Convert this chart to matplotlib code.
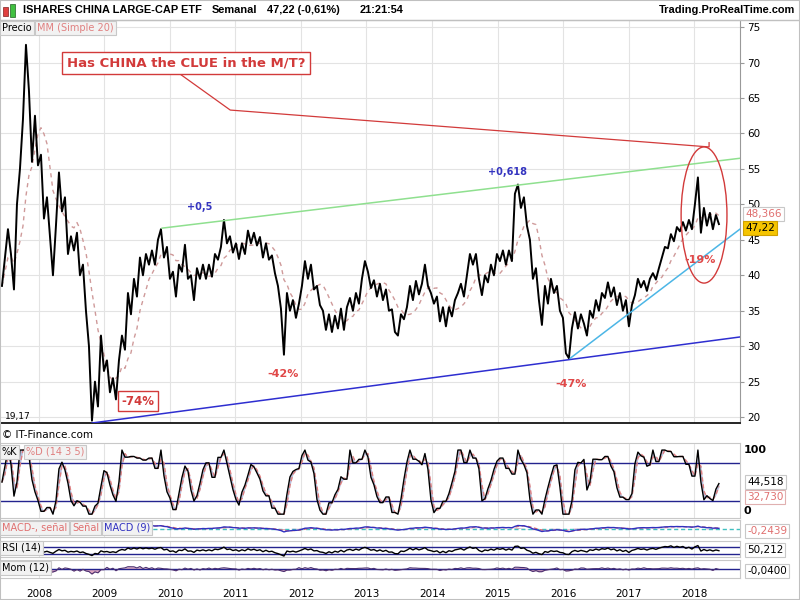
import numpy as np
import pandas as pd
import matplotlib
matplotlib.use("Agg")
import matplotlib.pyplot as plt
from matplotlib.patches import Ellipse, Rectangle

precio = [
    38.5, 42.5, 46.5, 43.0, 38.0, 50.0, 55.0, 62.0, 72.5, 66.0,
    56.0, 62.5, 55.5, 57.0, 48.0, 51.0, 45.5, 40.0, 47.0, 54.5,
    49.0, 51.0, 43.0, 45.5, 43.5, 46.0, 40.0, 41.5, 35.0, 30.0,
    19.5, 25.0, 21.5, 31.5, 26.5, 28.0, 23.5, 25.5, 22.5, 28.0,
    31.5, 29.5, 37.5, 34.5, 39.5, 37.0, 42.5, 40.0, 43.0, 41.5,
    43.5, 41.5, 45.0, 46.5, 42.5, 44.0, 39.5, 40.5, 37.0, 41.5,
    40.5, 44.3, 39.5, 40.0, 36.5, 41.0, 39.5, 41.5, 39.5, 41.5,
    39.8, 43.0, 42.2, 44.0, 47.8, 44.5, 45.5, 43.2, 44.5, 42.3,
    44.5, 43.0, 46.3, 44.5, 46.0, 44.2, 45.4, 42.5, 44.5, 42.2,
    42.8, 40.3, 38.5, 35.3, 28.8, 37.5, 35.0, 36.5, 34.0, 36.0,
    38.5, 42.0, 39.5, 41.5, 38.0, 38.5, 35.8, 35.0, 32.3, 34.5,
    32.0, 34.3, 32.5, 35.3, 32.3, 35.5, 36.8, 35.0, 37.5, 36.0,
    39.5, 42.0, 40.5, 38.2, 39.3, 37.0, 38.8, 36.5, 38.0, 35.0,
    35.2, 32.0, 31.5, 34.5, 33.8, 35.5, 38.5, 36.5, 39.2, 37.3,
    38.8, 41.5, 38.5, 37.5, 36.0, 37.0, 33.5, 35.5, 32.8, 35.5,
    34.2, 36.5, 37.5, 38.8, 37.0, 40.0, 43.0, 41.5, 43.0, 39.5,
    37.2, 40.0, 39.0, 41.5, 40.0, 43.0, 42.0, 43.5, 41.5, 43.5,
    42.0, 51.5, 52.8, 49.5, 51.0, 47.0, 45.0, 39.5, 41.0, 36.5,
    33.0, 38.5, 36.0, 39.5, 37.5, 38.5, 35.0, 34.0, 29.0, 28.3,
    32.5, 34.8, 32.5, 34.5, 33.2, 31.5, 35.0, 34.0, 36.5, 35.0,
    37.5, 36.8, 39.0, 37.0, 38.3, 35.8, 37.5, 35.0, 36.5, 32.8,
    35.8, 37.2, 39.5, 38.3, 39.2, 37.8, 39.5, 40.3, 39.4, 41.0,
    42.5, 44.0, 43.8, 45.8, 44.8, 46.8, 46.2, 47.5, 46.3, 47.8,
    46.5, 50.0, 53.8, 46.0, 49.5, 47.0, 48.8, 46.5, 48.5, 47.22,
]
fecha_ini = 2007.435
fecha_fin = 2018.38
years = list(range(2008, 2019))
price_ticks = list(range(20, 80, 5))

# lineas dibujadas a mano (anio, precio)
verde_x, verde_y = [2009.88, 2018.70], [46.65, 56.5]
azul_x, azul_y = [2008.81, 2018.70], [19.17, 31.3]
celeste_x, celeste_y = [2016.11, 2018.70], [28.3, 46.5]
roja_x, roja_y = [2010.15, 2010.92, 2018.23, 2018.23], [68.4, 63.3, 58.1, 58.7]

t = np.linspace(fecha_ini, fecha_fin, len(precio))
s = pd.Series(precio)

# indicadores
mm20 = s.rolling(8, min_periods=1).mean()
hh = s.rolling(6, min_periods=1).max()
ll = s.rolling(6, min_periods=1).min()
k_raw = ((s - ll) / (hh - ll).replace(0, np.nan) * 100).fillna(50)
pk = k_raw.rolling(2, min_periods=1).mean()
pdd = pk.rolling(2, min_periods=1).mean()
ema_r = s.ewm(span=5, adjust=False).mean()
ema_l = s.ewm(span=11, adjust=False).mean()
macd = ema_r - ema_l
senal = macd.ewm(span=4, adjust=False).mean()
delta = s.diff().fillna(0)
up = delta.clip(lower=0).ewm(alpha=1 / 6, adjust=False).mean()
dn = (-delta.clip(upper=0)).ewm(alpha=1 / 6, adjust=False).mean()
rsi = 100 - 100 / (1 + up / dn.replace(0, np.nan))
rsi = rsi.fillna(50)
mom = (s - s.shift(5)).fillna(0)

plt.rcParams['font.family'] = ['DejaVu Sans']
fig = plt.figure(figsize=(8, 6), dpi=100)
fig.patch.set_facecolor('white')


def fx(x):
    return x / 800


def fy(y):
    return 1 - y / 600


def panel(top, bottom):
    return fig.add_axes([0, fy(bottom), 740 / 800, (bottom - top) / 600])


XL = (2007.405, 2018.702)
GRID = '#e3e3e3'
NAVY = '#23238e'
ROJO = '#d23a3a'

ax = panel(20, 423)
ax_s = panel(443, 518)
ax_m = panel(520, 537)
ax_r = panel(541, 557)
ax_mo = panel(560, 578)

for a in (ax, ax_s, ax_m, ax_r, ax_mo):
    a.set_xlim(*XL)
    a.set_xticks(years)
    a.tick_params(axis='x', length=0, labelbottom=False)
    a.yaxis.tick_right()
    a.tick_params(axis='y', length=3, color='#999999', labelsize=7.5, pad=2)
    for sp in a.spines.values():
        sp.set_color('#c8c8c8')
        sp.set_linewidth(0.8)
    a.spines['left'].set_visible(False)
    a.grid(axis='x', color=GRID, lw=0.8)
    a.set_axisbelow(True)

# precio
ax.set_ylim(19.17, 76.0)
ax.set_yticks(price_ticks)
ax.grid(axis='y', color=GRID, lw=0.8)
ax.spines['right'].set_color('#999999')
ax.spines['bottom'].set_color('black')
ax.spines['bottom'].set_linewidth(1.2)
ax.plot(t, mm20, color='#cf9a9a', lw=1.0, ls=(0, (3, 3)), zorder=2)
ax.plot(t, precio, color='black', lw=1.4, zorder=3)
ax.plot(verde_x, verde_y, color='#8fe08f', lw=1.1, zorder=4)
ax.plot(azul_x, azul_y, color='#2e2ed0', lw=1.1, zorder=4)
ax.plot(celeste_x, celeste_y, color='#4cb6e6', lw=1.1, zorder=4)
ax.plot(roja_x, roja_y, color=ROJO, lw=0.9, zorder=4)
ax.add_patch(Ellipse((2018.153, 48.5), 0.70, 19.2, fill=False,
                     edgecolor=ROJO, lw=1.0, zorder=5))
ax.text(2010.244, 69.9, 'Has CHINA the CLUE in the M/T?', color=ROJO,
        fontsize=9.5, fontweight='bold', ha='center', va='center',
        bbox=dict(boxstyle='square,pad=0.35', fc='white', ec=ROJO, lw=1.0),
        zorder=6)
ax.text(2009.51, 22.25, '-74%', color=ROJO, fontsize=8.5, fontweight='bold',
        ha='center', va='center',
        bbox=dict(boxstyle='square,pad=0.3', fc='white', ec=ROJO, lw=1.0))
for xx, yy, txt in [(2011.725, 26.06, '-42%'), (2016.12, 24.65, '-47%'),
                    (2018.09, 42.1, '-19%')]:
    ax.text(xx, yy, txt, color='#e04848', fontsize=8, fontweight='bold',
            ha='center', va='center', zorder=6)
ax.text(2010.46, 49.6, '+0,5', color='#3434c0', fontsize=7, fontweight='bold',
        ha='center', va='center')
ax.text(2015.145, 54.55, '+0,618', color='#3434c0', fontsize=7,
        fontweight='bold', ha='center', va='center')

# estocastico
ax_s.set_ylim(-6, 111)
ax_s.set_yticks([])
ax_s.axhline(80, color=NAVY, lw=1.0)
ax_s.axhline(20, color=NAVY, lw=1.0)
ax_s.fill_between(t, pk, pdd, color='#b8bedc', lw=0)
ax_s.plot(t, pdd, color='#e08080', lw=1.0, ls=(0, (3, 2)))
ax_s.plot(t, pk, color='black', lw=1.0)

# MACD
lim = max(abs(macd).max(), 1) * 1.1
ax_m.set_ylim(-lim, lim)
ax_m.set_yticks([])
ax_m.fill_between(t, macd - senal, 0, color='#e6a8bc', lw=0)
ax_m.axhline(0, color='#40c0c0', lw=1.0, ls=(0, (3, 2)))
ax_m.plot(t, senal, color='#e07070', lw=0.9, ls=(0, (3, 2)))
ax_m.plot(t, macd, color='#3030c0', lw=1.0)

# RSI
ax_r.set_ylim(8, 111)
ax_r.set_yticks([])
ax_r.axhline(70, color=NAVY, lw=1.0)
ax_r.axhline(30, color=NAVY, lw=1.0)
ax_r.plot(t, rsi, color='black', lw=1.0)

# Momento
mlim = max(abs(mom).max(), 1) * 1.6
ax_mo.set_ylim(-mlim, mlim)
ax_mo.set_yticks([])
ax_mo.fill_between(t, mom, 0, color='#e0a8c0', lw=0)
ax_mo.axhline(0, color=NAVY, lw=1.0)
ax_mo.plot(t, mom, color='#4a3070', lw=0.8)
ax_mo.set_xticks(years)
ax_mo.set_xticklabels([str(y) for y in years])
ax_mo.tick_params(axis='x', labelbottom=True, labelsize=7.5, pad=8)

# cabecera
fig.add_artist(plt.Line2D([0, 1], [fy(19.5), fy(19.5)], color='#c0c0c0', lw=1))
fig.add_artist(Rectangle((fx(3), fy(16)), fx(5), 9 / 600, fc='#e04040', ec='#802020', lw=0.5))
fig.add_artist(Rectangle((fx(10), fy(17)), fx(5), 13 / 600, fc='#40c040', ec='#206020', lw=0.5))
hdr = dict(fontsize=7.9, fontweight='bold', va='center',
           family=['Liberation Sans', 'DejaVu Sans'])
fig.text(fx(23), fy(10), 'ISHARES CHINA LARGE-CAP ETF', **hdr)
fig.text(fx(212), fy(10), 'Semanal', **hdr)
fig.text(fx(267), fy(10), '47,22 (-0,61%)', **hdr)
fig.text(fx(360), fy(10), '21:21:54', **hdr)
fig.text(fx(795), fy(10), 'Trading.ProRealTime.com', ha='right', **hdr)

tag = dict(boxstyle='square,pad=0.2', fc='#f2f2f2', ec='#c8c8c8', lw=0.8)
fig.text(fx(2), fy(28), 'Precio', fontsize=7, va='center', bbox=tag)
fig.text(fx(37), fy(28), 'MM (Simple 20)', fontsize=7, va='center',
         color='#e08080', bbox=tag)
fig.text(fx(5), fy(416), '19,17', fontsize=6.5, va='center')
fig.text(fx(2), fy(435), '© IT-Finance.com', fontsize=7.5, va='center')
fig.text(fx(2), fy(452), '%K', fontsize=7, va='center', bbox=tag)
fig.text(fx(26), fy(452), '%D (14 3 5)', fontsize=7, va='center',
         color='#e08080', bbox=tag)
fig.text(fx(2), fy(528), 'MACD-, señal', fontsize=7, va='center',
         color='#e07070', bbox=tag)
fig.text(fx(72), fy(528), 'Señal', fontsize=7, va='center',
         color='#e07070', bbox=tag)
fig.text(fx(104), fy(528), 'MACD (9)', fontsize=7, va='center',
         color='#3030c0', bbox=tag)
fig.text(fx(2), fy(548), 'RSI (14)', fontsize=7, va='center', bbox=tag)
fig.text(fx(2), fy(568), 'Mom (12)', fontsize=7, va='center', bbox=tag)

# valores a la derecha
box = dict(boxstyle='square,pad=0.2', fc='white', ec='#c8c8c8', lw=0.8)
fig.text(fx(745), fy(214), '48,366', fontsize=7.5, va='center',
         color='#e07070', bbox=box, zorder=10)
fig.text(fx(745), fy(228), '47,22', fontsize=7.5, va='center', zorder=10,
         bbox=dict(boxstyle='square,pad=0.2', fc='#f5c400', ec='#d0a000', lw=0.8))
fig.text(fx(744), fy(450), '100', fontsize=8, fontweight='bold', va='center')
fig.text(fx(744), fy(511), '0', fontsize=8, fontweight='bold', va='center')
fig.text(fx(747), fy(482), '44,518', fontsize=7.5, va='center', bbox=box)
fig.text(fx(747), fy(497), '32,730', fontsize=7.5, va='center',
         color='#e07070', bbox=dict(boxstyle='square,pad=0.2', fc='white', ec='#e0b0b0', lw=0.8))
fig.text(fx(747), fy(531), '-0,2439', fontsize=7.5, va='center',
         color='#e07070', bbox=box)
fig.text(fx(747), fy(550), '50,212', fontsize=7.5, va='center', bbox=box)
fig.text(fx(747), fy(571), '-0,0400', fontsize=7.5, va='center', bbox=box)

fig.add_artist(Rectangle((0, 0), 1, 1, fill=False, ec='#c0c0c0', lw=1.5))
fig.savefig('out.png', dpi=100)
